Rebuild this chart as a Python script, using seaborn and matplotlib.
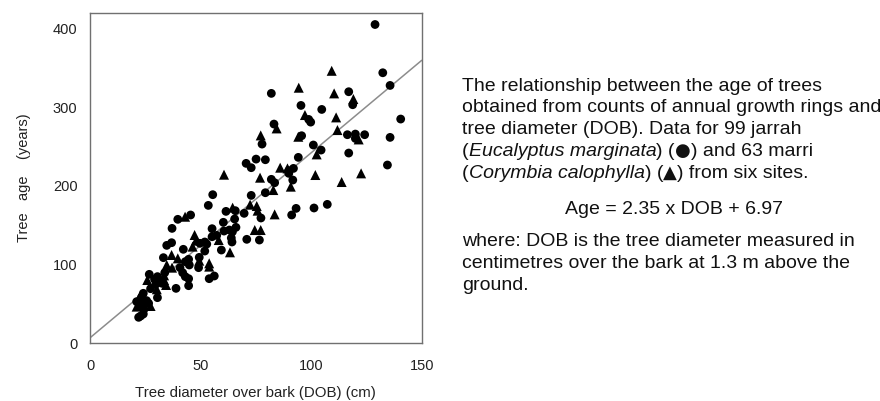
import matplotlib
matplotlib.use("Agg")
import matplotlib.pyplot as plt
import matplotlib.transforms as mtransforms
from matplotlib.ticker import MultipleLocator
import seaborn as sns
import pandas as pd
import numpy as np

# ---------------- data ----------------
jarrah_dob = [128.9, 132.4, 135.7, 140.5, 135.7, 134.5,
              117.0, 118.8, 116.4, 120.0, 124.2, 120.0, 117.0,
              107.3, 101.3, 104.5, 101.0, 104.8, 98.9, 99.8,
              95.4, 95.7, 94.2, 92.0, 89.9, 89.9, 91.7, 93.2, 91.2,
              82.0, 83.2, 77.8, 75.1, 70.6, 72.9, 79.3, 79.3, 82.0, 83.5,
              72.9, 77.3, 69.7, 76.6, 70.9,
              55.5, 53.5, 61.5, 65.7, 65.4, 60.3, 66.0, 63.0, 60.6, 63.9, 64.2, 59.4, 64.4,
              55.2, 55.2, 57.3, 51.9, 52.8, 49.7, 51.9, 49.4, 49.1, 53.9, 56.2,
              45.5, 39.7, 37.1, 36.9, 34.7, 42.2, 44.6, 43.1, 44.9, 40.7, 41.9, 43.1, 44.6, 44.6, 38.9,
              33.2, 33.8, 30.5, 29.2, 26.8, 32.6, 29.9, 27.4, 30.5, 24.1, 23.5, 21.1, 25.6, 26.5, 23.2,
              24.4, 24.1, 22.9, 22.0]
jarrah_age = [405, 343.7, 327.6, 284.9, 261.6, 226.5,
              319.6, 303.1, 265, 265.8, 265, 260.3, 241.7,
              176.5, 171.9, 245.5, 251.9, 297.1, 284.4, 281,
              302.2, 263.7, 236.2, 222.2, 219.3, 215.9, 207.4, 171.4, 163,
              317.5, 278.5, 253.1, 234, 228.6, 223.1, 233.2, 191.3, 208.3, 204,
              187.9, 159.2, 165.1, 131.2, 132.1,
              188.8, 175.2, 167.6, 168.5, 157.9, 153.7, 147.3, 143.9, 142.6, 133.8, 128.7, 118.5, 141.7,
              145.6, 135.4, 137.1, 128.7, 126.1, 127, 117.2, 109.2, 96.1, 82.1, 85.5,
              163, 157.5, 146, 127.8, 124.4, 119.4, 106.7, 103.7, 99.5, 96.1, 89.7, 84.7, 82.1, 73.2, 69.8,
              108.8, 89.7, 84.7, 81.3, 87.6, 76.2, 75.3, 69.4, 58, 63.5, 59.3, 52.9, 54.2, 50.8, 49.1,
              43.2, 37.2, 34.7, 33]

marri_dob = [109.3, 110.4, 119.1, 111.3, 111.9, 121.5, 122.6, 113.8, 101.9, 102.5,
             97.2, 94.4, 94.2, 89.3, 90.8, 86.0, 84.4, 77.2, 76.9, 82.9,
             83.5, 72.4, 75.4, 75.8, 74.5, 77.2, 60.6, 64.5, 58.2, 63.3,
             47.3, 47.9, 49.4, 53.9, 53.9, 43.0, 46.4, 39.7, 36.9, 34.7,
             37.1, 33.5, 33.5, 25.9, 34.4, 30.2, 22.0, 27.4, 21.1]
marri_age = [346.2, 317.5, 310.3, 287, 270.9, 259, 215.9, 204.9, 213.8, 240,
             290, 324.7, 262.4, 222.2, 199, 223.1, 273, 264.1, 210.4, 194.7,
             163.8, 176.1, 174.4, 168.5, 143.9, 143.9, 214.2, 172.3, 131.2, 115.6,
             137.6, 130.4, 105, 101.6, 97.4, 160.8, 122.8, 107.9, 112.2, 99.5,
             96.1, 86.3, 80.4, 80.4, 74.1, 68.6, 57.1, 47.4, 46.6]

slope = 2.35
intercept = 6.97
x_range = [0, 150]

x_ticks = [0, 50, 100, 150]
y_ticks = [0, 100, 200, 300, 400]

text_lines = [
    [("The relationship between the age of trees", "normal")],
    [("obtained from counts of annual growth rings and", "normal")],
    [("tree diameter (DOB). Data for 99 jarrah", "normal")],
    [("(", "normal"), ("Eucalyptus marginata", "italic"), (") (", "normal"),
     ("\u25CF", "symbol"), (") and 63 marri", "normal")],
    [("(", "normal"), ("Corymbia calophylla", "italic"), (") (", "normal"),
     ("\u25B2", "symbol"), (") from six sites.", "normal")],
]
equation = "Age = 2.35 x DOB + 6.97"
where_lines = ["where: DOB is the tree diameter measured in",
               "centimetres over the bark at 1.3 m above the",
               "ground."]

# ---------------- figure ----------------
sns.set_style("white")
plt.rcParams['font.family'] = ['Liberation Sans', 'DejaVu Sans']

W, H, DPI = 880, 401, 100
fig = plt.figure(figsize=(W / DPI, H / DPI), dpi=DPI)
ax = fig.add_axes([90 / W, 1 - 343.3 / H, (421.7 - 90) / W, (343.3 - 12.7) / H])

jar = pd.DataFrame({"dob": jarrah_dob, "age": jarrah_age})
mar = pd.DataFrame({"dob": marri_dob, "age": marri_age})

line_df = pd.DataFrame({"x": x_range,
                        "y": [slope * v + intercept for v in x_range]})
sns.lineplot(data=line_df, x="x", y="y", ax=ax, color="#8c8c8c", lw=1.1, zorder=1)

sns.scatterplot(data=jar, x="dob", y="age", marker="o", color="black",
                edgecolor="none", s=40, ax=ax, legend=False, zorder=2)
sns.scatterplot(data=mar, x="dob", y="age", marker="^", color="black",
                edgecolor="none", s=52, ax=ax, legend=False, zorder=2)

ax.set_xlim(0, 150)
ax.set_ylim(0, 420)
ax.set_xticks(x_ticks)
ax.set_yticks(y_ticks)
ax.xaxis.set_minor_locator(MultipleLocator(10))
ax.yaxis.set_minor_locator(MultipleLocator(20))
ax.tick_params(which="both", direction="in", color="#707070", width=0.9,
               labelsize=10.5, labelcolor="#222222")
ax.tick_params(which="major", length=5)
ax.tick_params(which="minor", length=3)
ax.tick_params(axis="x", which="major", pad=11)
ax.tick_params(axis="y", which="major", pad=9)
for sp in ax.spines.values():
    sp.set_visible(True)
    sp.set_color("#707070")
    sp.set_linewidth(1.0)

ax.set_xlabel("Tree diameter over bark (DOB) (cm)", fontsize=10.8, color="#222222", labelpad=10)
ax.set_ylabel("Tree   age    (years)", fontsize=10.5, color="#222222", labelpad=16)

# ---------------- right-hand text ----------------
ident = mtransforms.IdentityTransform()
fs = 14
fig.canvas.draw()
renderer = fig.canvas.get_renderer()
x0 = 462
base = [90.7, 112.4, 134.1, 155.8, 177.5]
for segs, yb in zip(text_lines, base):
    x = x0
    for s, st in segs:
        if st == "symbol":
            t = fig.text(x, H - yb, s, transform=ident, fontsize=fs - 1,
                         family="DejaVu Sans", va="baseline", ha="left",
                         color="#111111")
        else:
            t = fig.text(x, H - yb, s, transform=ident, fontsize=fs, style=st,
                         va="baseline", ha="left", color="#111111")
        bb = t.get_window_extent(renderer)
        x = bb.x1

fig.text(674, H - 214.5, equation, transform=ident, fontsize=fs,
         va="baseline", ha="center", color="#111111")
for s, yb in zip(where_lines, [246.5, 268.2, 289.9]):
    fig.text(x0, H - yb, s, transform=ident, fontsize=fs,
             va="baseline", ha="left", color="#111111")

fig.savefig("out.png", dpi=DPI)
